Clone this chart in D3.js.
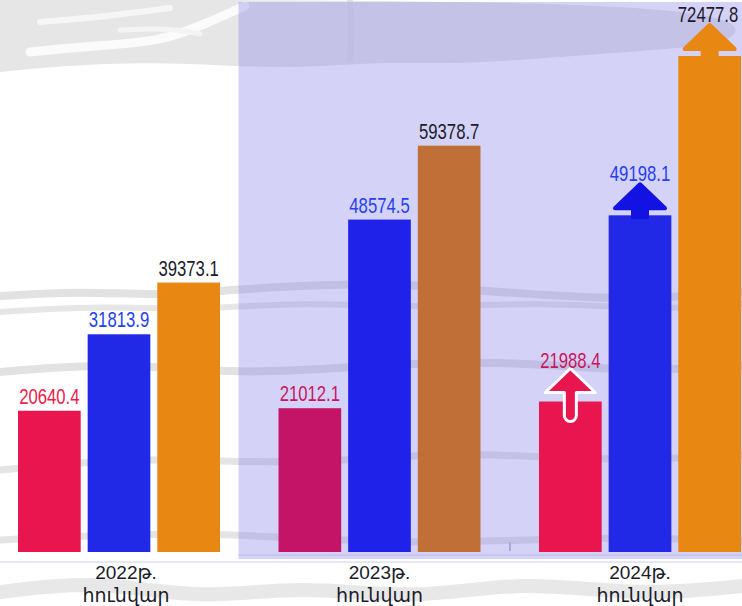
<!DOCTYPE html>
<html lang="hy">

<head>
  <meta charset="UTF-8">
  <script src="https://cdn.jsdelivr.net/npm/d3@7"></script>
  <style>
    body {
      margin: 0;
      background: #fff;
    }

    .value {
      font-family: "Liberation Sans", Arial, sans-serif;
      font-size: 22px;
    }

    .cat {
      font-family: "Liberation Sans", "DejaVu Sans", sans-serif;
      font-size: 19px;
      fill: #1b1b2b;
    }
  </style>
  <title>2022-2024 հունվար</title>
</head>

<body>
  <svg id="chart" width="742" height="606"></svg>

  <script>
    // data
    var years = ["2022", "2023", "2024"];
    var yearLabels = ["2022թ.", "2023թ.", "2024թ."];
    var monthLabel = "հունվար";
    var seriesA = [20640.4, 21012.1, 21988.4];
    var seriesB = [31813.9, 48574.5, 49198.1];
    var seriesC = [39373.1, 59378.7, 72477.8];
    var barColors = [
      ["#e8154f", "#2229e6", "#e88712"],
      ["#c41468", "#1f22e8", "#c07036"],
      ["#e8154f", "#2229e6", "#e88712"]
    ];
    var labelColors = [
      ["#ee1c4c", "#2440f0", "#1b1b2b"],
      ["#c8155f", "#2440f0", "#1b1b2b"],
      ["#c8155f", "#2440f0", "#1b1b2b"]
    ];
    var arrowYear = "2024";

    var svg = d3.select("#chart"),
      width = +svg.attr("width"),
      height = +svg.attr("height");

    var base = 552;

    var rows = years.map(function (yr, i) {
      return [seriesA[i], seriesB[i], seriesC[i]].map(function (v, j) {
        return { year: yr, idx: i, s: j, value: v };
      });
    });

    var x0 = d3.scaleBand().domain(years).range([18, 741]).paddingInner(0.2246).paddingOuter(0);
    var x1 = d3.scaleBand().domain([0, 1, 2]).range([0, x0.bandwidth()]).paddingInner(0.1);
    var y = d3.scaleLinear()
      .domain([0, d3.max(seriesA.concat(seriesB, seriesC))])
      .range([base, 56]);

    // background texture (decorative strokes)
    var bg = svg.append("g");
    var curve = d3.line().curve(d3.curveBasis);
    bg.append("path")
      .attr("d", curve([[0, 0], [742, 0], [742, 42], [680, 48], [600, 54], [520, 60], [450, 64], [380, 62], [300, 68], [230, 66], [150, 62], [60, 66], [0, 72]]) + "Z")
      .attr("fill", "#e6e6e6");
    var strands = [
      { w: 9, c: "#fbfbfb", p: [[30, 52], [90, 46], [160, 42], [205, 24], [245, 6]] },
      { w: 6, c: "#f6f6f6", p: [[40, 22], [110, 16], [170, 8]] },
      { w: 5, c: "#f4f4f4", p: [[120, 30], [170, 28], [200, 34]] },
      { w: 6, c: "#e0e0e0", p: [[350, 0], [352, 30], [350, 60]] },
      { w: 8, c: "#e2e2e2", p: [[0, 296], [80, 291], [160, 296], [240, 289], [320, 285], [400, 283], [480, 291], [560, 296], [640, 300], [742, 292]] },
      { w: 6, c: "#e6e6e6", p: [[0, 312], [90, 306], [200, 310], [300, 302], [420, 308], [540, 302], [660, 310], [742, 304]] },
      { w: 8, c: "#e2e2e2", p: [[0, 372], [120, 362], [240, 375], [360, 366], [500, 360], [620, 372], [742, 366]] },
      { w: 7, c: "#e4e4e4", p: [[0, 470], [150, 456], [300, 466], [450, 450], [600, 462], [742, 455]] },
      { w: 7, c: "#e4e4e4", p: [[0, 540], [200, 530], [400, 546], [600, 536], [742, 541]] },
      { w: 14, c: "#e8e8e8", p: [[0, 592], [100, 580], [200, 600], [300, 585], [420, 600], [520, 580], [640, 596], [742, 586]] }
    ];
    bg.selectAll("path.strand")
      .data(strands)
      .enter().append("path")
      .attr("class", "strand")
      .attr("d", function (d) { return curve(d.p); })
      .attr("fill", "none")
      .attr("stroke", function (d) { return d.c; })
      .attr("stroke-width", function (d) { return d.w; })
      .attr("stroke-linecap", "round");

    // light baseline
    svg.append("line")
      .attr("x1", 0).attr("x2", width)
      .attr("y1", base + 10).attr("y2", base + 10)
      .attr("stroke", "#e6e6f4").attr("stroke-width", 2);

    // lavender panel behind 2023 and 2024
    var panelX = x0("2023") - 40;
    svg.append("rect")
      .attr("x", panelX).attr("y", 2)
      .attr("width", width - panelX).attr("height", base + 7 - 2)
      .attr("fill", "rgb(139,131,235)")
      .attr("opacity", 0.36);
    svg.append("line")
      .attr("x1", panelX).attr("x2", width)
      .attr("y1", base + 3).attr("y2", base + 3)
      .attr("stroke", "#c4c2ee").attr("stroke-width", 1.5);
    svg.append("line")
      .attr("x1", x0("2024") - 29).attr("x2", x0("2024") - 29)
      .attr("y1", base - 10).attr("y2", base - 1)
      .attr("stroke", "#a9a7dc").attr("stroke-width", 2);

    // bars
    var groups = svg.selectAll("g.year")
      .data(rows)
      .enter().append("g")
      .attr("class", "year")
      .attr("transform", function (d, i) { return "translate(" + x0(years[i]) + ",0)"; });

    groups.selectAll("rect")
      .data(function (d) { return d; })
      .enter().append("rect")
      .attr("x", function (d) { return x1(d.s); })
      .attr("y", function (d) { return y(d.value); })
      .attr("width", x1.bandwidth())
      .attr("height", function (d) { return base - y(d.value); })
      .attr("fill", function (d) { return barColors[d.idx][d.s]; });

    // up arrows on the last year
    var solidArrow = "M0,-31L25,-7L7,-7L7,2L-7,2L-7,-7L-25,-7Z";
    var outlinedArrow = "M0,-33L25,-9L6,-9L6,14A6,6 0 0 1 -6,14L-6,-9L-25,-9Z";
    var arrowRows = rows[years.indexOf(arrowYear)];
    svg.selectAll("path.arrow")
      .data(arrowRows)
      .enter().append("path")
      .attr("class", "arrow")
      .attr("transform", function (d) {
        return "translate(" + (x0(d.year) + x1(d.s) + x1.bandwidth() / 2) + "," + y(d.value) + ")";
      })
      .attr("d", function (d) { return d.s === 0 ? outlinedArrow : solidArrow; })
      .attr("fill", function (d) { return d.s === 1 ? "#1212e2" : barColors[d.idx][d.s]; })
      .attr("stroke", function (d) { return d.s === 0 ? "#fff" : (d.s === 1 ? "#1212e2" : barColors[d.idx][d.s]); })
      .attr("stroke-width", function (d) { return d.s === 0 ? 3 : 4; })
      .attr("stroke-linejoin", "round");

    // value labels (kept inside the right edge)
    var fmt = d3.format(".1f");
    svg.selectAll("text.value")
      .data(d3.merge(rows))
      .enter().append("text")
      .attr("class", "value")
      .attr("text-anchor", "middle")
      .attr("transform", function (d) {
        var cx = Math.min(x0(d.year) + x1(d.s) + x1.bandwidth() / 2, width - 34);
        var ty = d.year === arrowYear ? y(d.value) - 34 : y(d.value) - 7;
        return "translate(" + cx + "," + ty + ") scale(0.76,1)";
      })
      .attr("fill", function (d) { return labelColors[d.idx][d.s]; })
      .text(function (d) { return fmt(d.value); });

    // category labels
    var cats = svg.selectAll("text.cat")
      .data(years)
      .enter().append("text")
      .attr("class", "cat")
      .attr("text-anchor", "middle")
      .attr("x", function (d) { return x0(d) + x0.bandwidth() / 2 + (d === "2022" ? 7 : 0); })
      .attr("y", base + 27);
    cats.append("tspan")
      .text(function (d, i) { return yearLabels[i]; });
    cats.append("tspan")
      .attr("x", function (d) { return x0(d) + x0.bandwidth() / 2 + (d === "2022" ? 7 : 0); })
      .attr("dy", 23)
      .text(monthLabel);
  </script>

</body>

</html>
